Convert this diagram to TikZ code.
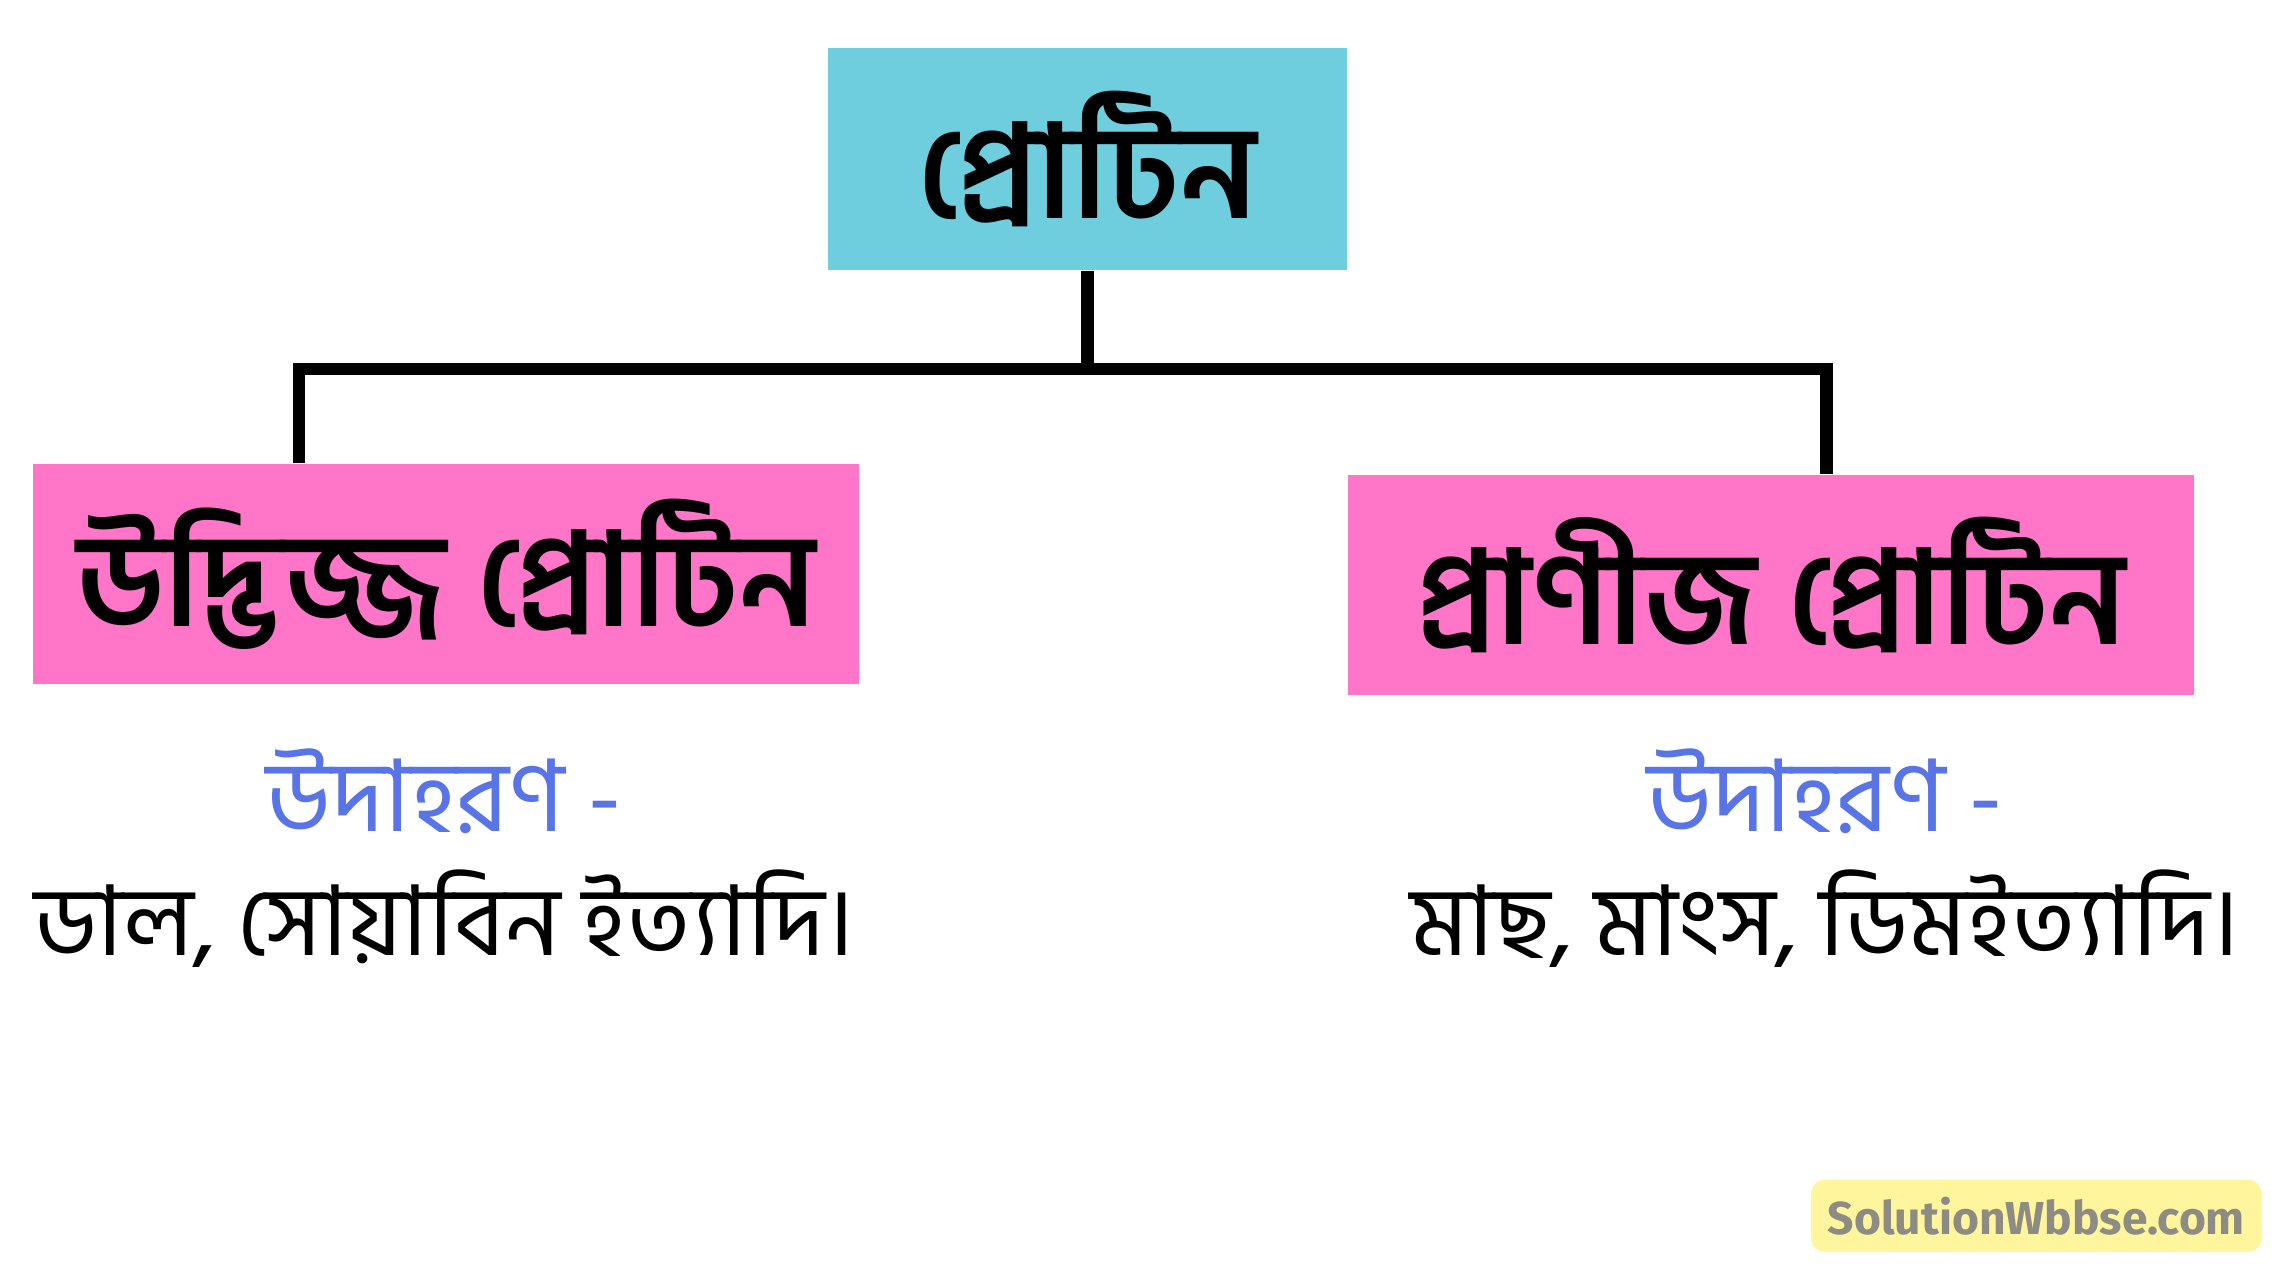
\documentclass[tikz,border=0pt]{standalone}
\usepackage{fontspec}
\usepackage{xcolor}
\usepackage{tikz}
\newfontfamily\bnfont[Script=Bengali]{Hind Siliguri}
\newfontfamily\markfont{Fira Sans}
\definecolor{boxcyan}{HTML}{6ECEDE}
\definecolor{boxpink}{HTML}{FF75C8}
\definecolor{exblue}{HTML}{5874E6}
\definecolor{markfill}{HTML}{FFF59D}
\definecolor{markgray}{HTML}{8C8C84}
\tikzset{
  headbox/.style={fill=boxcyan,minimum width=3.56cm,minimum height=1.52cm,inner sep=0pt,font=\bnfont\bfseries\fontsize{25.5}{30}\selectfont},
  kindbox/.style={fill=boxpink,minimum height=1.51cm,inner sep=0pt,font=\bnfont\bfseries\fontsize{25.5}{30}\selectfont},
  extag/.style={text=exblue,font=\bnfont\fontsize{19.5}{23}\selectfont},
  exlist/.style={font=\bnfont\fontsize{19}{23}\selectfont},
  branch/.style={line width=2.4pt}
}
\begin{document}
\begin{tikzpicture}[x=0.01cm,y=-0.01cm]
        \useasboundingbox (0, 0) rectangle (1560, 883);
        \node[headbox] (protin) at (746, 109) {প্রোটিন};
        \node[kindbox,minimum width=5.66cm] (udbhid) at (306, 394) {উদ্ভিজ্জ প্রোটিন};
        \node[kindbox,minimum width=5.80cm] (prani) at (1215, 401.5) {প্রাণীজ প্রোটিন};
        \coordinate (jl) at (205, 253);
        \coordinate (jr) at (1253, 253);
        \draw[branch] (protin.south) -- (protin.south |- jl);
        \draw[branch,line cap=rect] (jl) -- (jr);
        \draw[branch] (jl) -- (jl |- udbhid.north);
        \draw[branch] (jr) -- (jr |- prani.north);
        \node[extag] (ex1) at (305, 543) {উদাহরণ -};
        \node[exlist] (list1) at (305, 630) {ডাল, সোয়াবিন ইত্যাদি।};
        \node[extag] (ex2) at (1252, 543) {উদাহরণ -};
        \node[exlist] (list2) at (1252, 630) {মাছ, মাংস, ডিমইত্যাদি।};
        \node[fill=markfill,rounded corners=0.1cm,minimum width=3.00cm,minimum height=0.48cm,text=markgray,font=\markfont\bfseries\fontsize{9}{11}\selectfont] (brand) at (1397, 834) {SolutionWbbse.com};
      \end{tikzpicture}
\end{document}
